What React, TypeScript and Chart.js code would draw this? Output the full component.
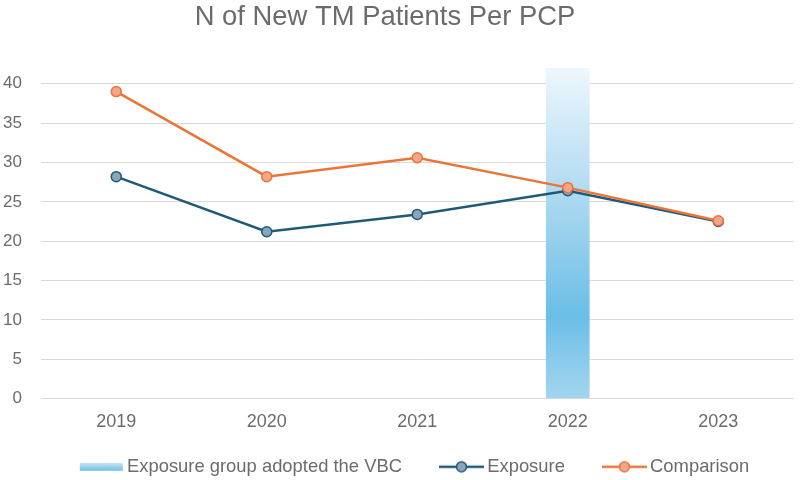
import React, { useEffect, useRef } from "react";
import { Chart, registerables } from "chart.js";

Chart.register(...registerables);

const categories = ["2019", "2020", "2021", "2022", "2023"];
const exposureValues = [28.2, 21.2, 23.4, 26.4, 22.5];
const comparisonValues = [39.0, 28.2, 30.6, 26.8, 22.6];
const vbcBandValues = [null, null, null, 42, null];
const yTickValues = [0, 5, 10, 15, 20, 25, 30, 35, 40];
const yMax = 42;
const titleText = "N of New TM Patients Per PCP";
const seriesLabels = ["Exposure group adopted the VBC", "Exposure", "Comparison"];

const FONT = "'Liberation Sans', Arial, sans-serif";
const TEXT_COLOR = "#6b6b6b";
const EXPOSURE_LINE = "#1f5b78";
const EXPOSURE_FILL = "#8ba5bb";
const COMPARISON_LINE = "#e97537";
const COMPARISON_FILL = "#f4a68a";

function makeLegendImage(kind: "band" | "line", line?: string, fill?: string) {
  const W = 83;
  const H = 14;
  const c = document.createElement("canvas");
  c.width = W;
  c.height = H;
  const ctx = c.getContext("2d")!;
  const x0 = W - 45;
  if (kind === "band") {
    const g = ctx.createLinearGradient(0, 3, 0, 11);
    g.addColorStop(0, "#c9e6f7");
    g.addColorStop(1, "#6fc0e7");
    ctx.fillStyle = g;
    ctx.fillRect(x0 + 1, 3, 43, 8);
  } else {
    ctx.strokeStyle = line!;
    ctx.lineWidth = 2.5;
    ctx.beginPath();
    ctx.moveTo(x0, H / 2);
    ctx.lineTo(W, H / 2);
    ctx.stroke();
    ctx.beginPath();
    ctx.arc(x0 + 22.5, H / 2, 5, 0, Math.PI * 2);
    ctx.fillStyle = fill!;
    ctx.fill();
    ctx.lineWidth = 1.5;
    ctx.stroke();
  }
  return c;
}

const titlePlugin = {
  id: "customTitle",
  afterDraw(chart: any) {
    const ctx = chart.ctx;
    ctx.save();
    ctx.font = `27.4px ${FONT}`;
    ctx.fillStyle = TEXT_COLOR;
    ctx.textAlign = "center";
    ctx.textBaseline = "alphabetic";
    ctx.fillText(titleText, 385, 25);
    ctx.restore();
  },
};

export default function App() {
  const ref = useRef<HTMLCanvasElement | null>(null);

  useEffect(() => {
    if (!ref.current) return;
    const legendImages = [
      makeLegendImage("band"),
      makeLegendImage("line", EXPOSURE_LINE, EXPOSURE_FILL),
      makeLegendImage("line", COMPARISON_LINE, COMPARISON_FILL),
    ];

    const chart = new Chart(ref.current, {
      type: "bar",
      data: {
        labels: categories,
        datasets: [
          {
            type: "bar",
            label: seriesLabels[0],
            data: vbcBandValues as any,
            order: 3,
            barPercentage: 0.29,
            categoryPercentage: 1,
            borderWidth: 0,
            backgroundColor: (c: any) => {
              const chart = c.chart;
              if (!chart.chartArea) return "#8ccbed";
              const y = chart.scales.y;
              const top = y.getPixelForValue(yMax);
              const bottom = y.getPixelForValue(0);
              const g = chart.ctx.createLinearGradient(0, top, 0, bottom);
              g.addColorStop(0, "#eef7fd");
              g.addColorStop(0.35, "#b4dcf2");
              g.addColorStop(0.75, "#6bbee6");
              g.addColorStop(1, "#a3d5ef");
              return g;
            },
          },
          {
            type: "line",
            label: seriesLabels[1],
            data: exposureValues,
            order: 2,
            borderColor: EXPOSURE_LINE,
            backgroundColor: EXPOSURE_FILL,
            borderWidth: 2.5,
            pointRadius: 5,
            pointBorderWidth: 1.5,
            pointBorderColor: EXPOSURE_LINE,
            pointBackgroundColor: EXPOSURE_FILL,
            tension: 0,
          },
          {
            type: "line",
            label: seriesLabels[2],
            data: comparisonValues,
            order: 1,
            borderColor: COMPARISON_LINE,
            backgroundColor: COMPARISON_FILL,
            borderWidth: 2.5,
            pointRadius: 5,
            pointBorderWidth: 1.5,
            pointBorderColor: COMPARISON_LINE,
            pointBackgroundColor: COMPARISON_FILL,
            tension: 0,
          },
        ],
      },
      options: {
        animation: false,
        responsive: true,
        maintainAspectRatio: false,
        layout: { padding: { top: 68, right: 4, left: 0, bottom: -6 } },
        plugins: {
          title: { display: false },
          tooltip: { enabled: false },
          legend: {
            display: true,
            position: "bottom",
            labels: {
              usePointStyle: true,
              pointStyleWidth: 71,
              padding: 5,
              color: TEXT_COLOR,
              font: { family: FONT, size: 18.4 },
              generateLabels: (ch: any) =>
                seriesLabels.map((text, i) => ({
                  text,
                  fontColor: TEXT_COLOR,
                  pointStyle: legendImages[i],
                  datasetIndex: i,
                  hidden: !ch.isDatasetVisible(i),
                  lineWidth: 0,
                  strokeStyle: "transparent",
                  fillStyle: "transparent",
                })),
            },
          },
        },
        scales: {
          x: {
            grid: { display: false, drawTicks: false },
            border: { display: false },
            ticks: {
              color: TEXT_COLOR,
              font: { family: FONT, size: 18 },
              padding: 13,
            },
            afterFit: (s: any) => {
              s.height = 54;
            },
          },
          y: {
            min: 0,
            max: yMax,
            grid: { color: "#d9d9d9", lineWidth: 1, drawTicks: false },
            border: { display: false },
            ticks: {
              color: TEXT_COLOR,
              font: { family: FONT, size: 17 },
              padding: 19,
            },
            afterBuildTicks: (s: any) => {
              s.ticks = yTickValues.map((v) => ({ value: v }));
            },
            afterFit: (s: any) => {
              s.width = 41;
            },
          },
        },
      },
      plugins: [titlePlugin],
    });
    return () => chart.destroy();
  }, []);

  return (
    <div style={{ position: "absolute", left: 0, top: 0, width: 800, height: 480, background: "#fff" }}>
      <canvas ref={ref} />
    </div>
  );
}
